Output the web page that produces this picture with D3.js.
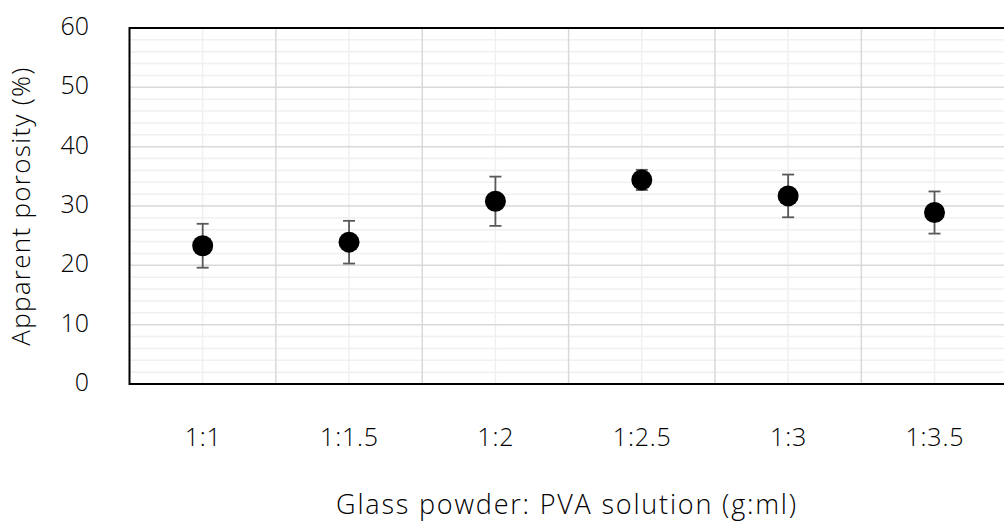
<!DOCTYPE html>
<html><head><meta charset="utf-8">
<script src="https://cdn.jsdelivr.net/npm/d3@7"></script>
<style>body{margin:0;background:#fff}svg{display:block}text{font-family:"Open Sans","Noto Sans",sans-serif;font-weight:300;fill:#000}</style>
</head><body><svg id="c" width="1004" height="522"></svg>
<script>
const categories = ["1:1","1:1.5","1:2","1:2.5","1:3","1:3.5"];
const porosity = [23.3, 23.9, 30.8, 34.4, 31.7, 28.9];
const errors = [3.7, 3.6, 4.15, 1.7, 3.6, 3.55];
const yTicks = [0,10,20,30,40,50,60];
const yTitle = "Apparent porosity (%)";
const xTitle = "Glass powder: PVA solution (g:ml)";

const svg = d3.select("#c");
const x = d3.scaleLinear().domain([0.5, 6.5]).range([129.5, 1007.7]);
const y = d3.scaleLinear().domain([0, 60]).range([384, 28]);

const g = svg.append("g");
g.selectAll(".hmin").data(d3.range(0, 61, 2).filter(v => v % 10 !== 0)).join("line")
  .attr("x1", x(0.5)).attr("x2", x(6.5)).attr("y1", d => y(d)).attr("y2", d => y(d))
  .attr("stroke", "#f0f0f0").attr("stroke-width", 1.5);
g.selectAll(".vmin").data(d3.range(1, 7)).join("line")
  .attr("x1", d => x(d)).attr("x2", d => x(d)).attr("y1", y(0)).attr("y2", y(60))
  .attr("stroke", "#f0f0f0").attr("stroke-width", 1.5);
g.selectAll(".hmaj").data(yTicks).join("line")
  .attr("x1", x(0.5)).attr("x2", x(6.5)).attr("y1", d => y(d)).attr("y2", d => y(d))
  .attr("stroke", "#d9d9d9").attr("stroke-width", 1.5);
g.selectAll(".vmaj").data(d3.range(1.5, 6.5, 1)).join("line")
  .attr("x1", d => x(d)).attr("x2", d => x(d)).attr("y1", y(0)).attr("y2", y(60))
  .attr("stroke", "#d9d9d9").attr("stroke-width", 1.5);

svg.append("rect").attr("x", x(0.5)).attr("y", y(60)).attr("width", x(6.5) - x(0.5)).attr("height", y(0) - y(60))
  .attr("fill", "none").attr("stroke", "#000").attr("stroke-width", 2);

svg.append("g").selectAll("text").data(yTicks).join("text")
  .attr("x", 89).attr("y", d => y(d) + 7).attr("text-anchor", "end")
  .attr("font-size", 25).text(d => d);

svg.append("g").selectAll("text").data(categories).join("text")
  .attr("x", (d, i) => x(i + 1) + 0.4).attr("y", 446).attr("text-anchor", "middle")
  .attr("font-size", 25).attr("letter-spacing", 0.8).text(d => d);

svg.append("text").attr("x", 567).attr("y", 514).attr("text-anchor", "middle").attr("font-size", 27)
  .attr("letter-spacing", 1.8).text(xTitle);
svg.append("text").attr("transform", `translate(30,${(y(0) + y(60)) / 2}) rotate(-90)`).attr("text-anchor", "middle")
  .attr("font-size", 26).attr("letter-spacing", 1.3).text(yTitle);

const eb = svg.append("g").attr("stroke", "#595959").attr("stroke-width", 1.8);
porosity.forEach((v, i) => {
  const cx = x(i + 1), e = errors[i];
  eb.append("line").attr("x1", cx).attr("x2", cx).attr("y1", y(v - e)).attr("y2", y(v + e));
  eb.append("line").attr("x1", cx - 6).attr("x2", cx + 6).attr("y1", y(v - e)).attr("y2", y(v - e));
  eb.append("line").attr("x1", cx - 6).attr("x2", cx + 6).attr("y1", y(v + e)).attr("y2", y(v + e));
});

svg.append("g").selectAll("circle").data(porosity).join("circle")
  .attr("cx", (d, i) => x(i + 1)).attr("cy", d => y(d)).attr("r", 10.5).attr("fill", "#000");
</script></body></html>
